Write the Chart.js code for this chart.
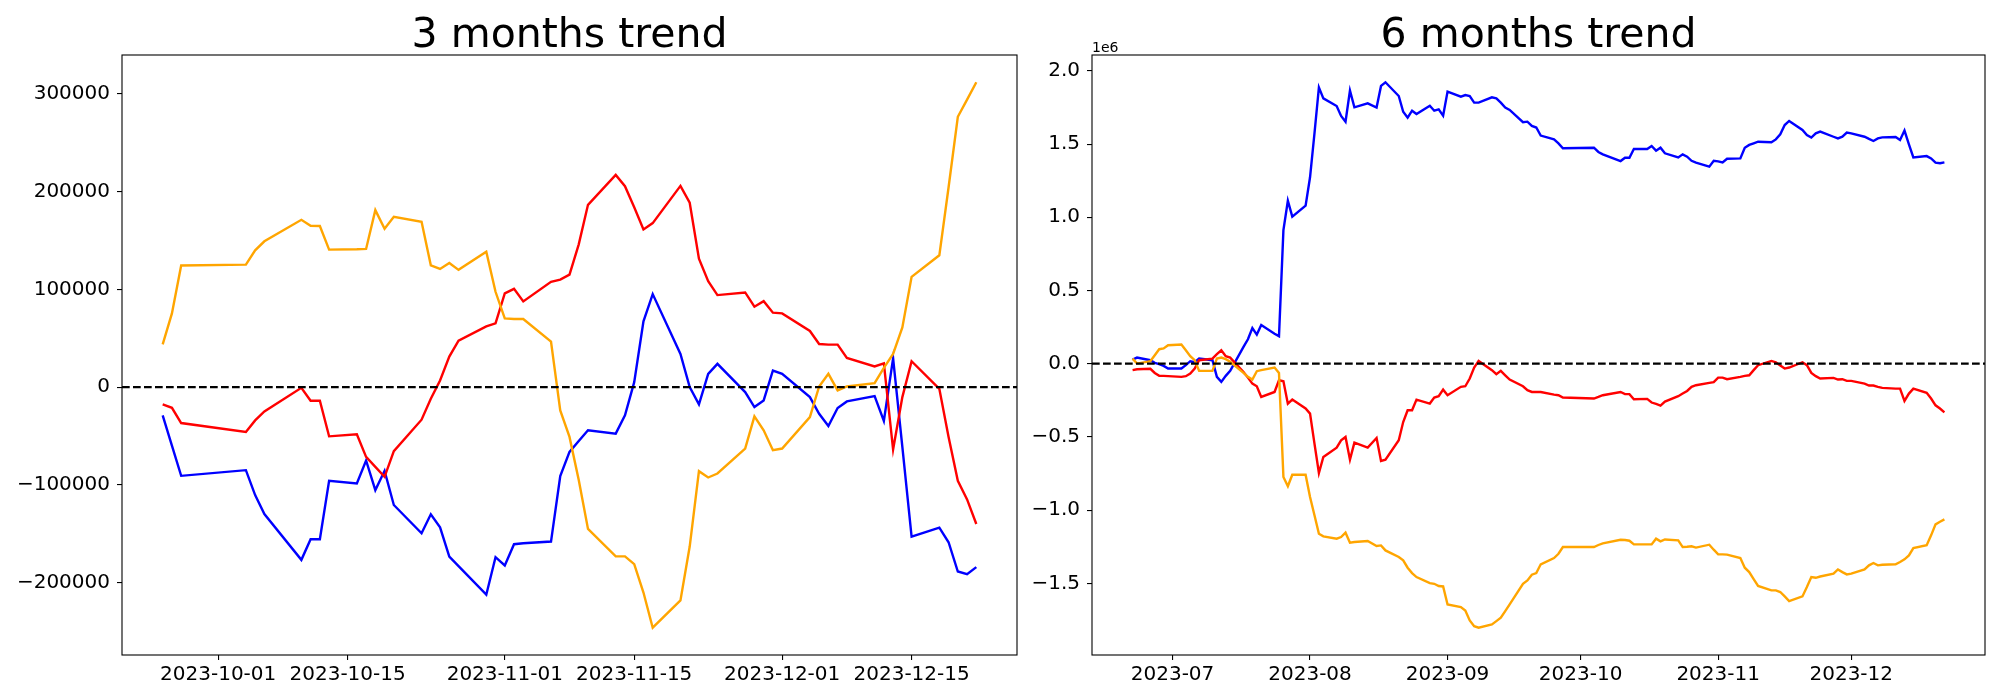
<!DOCTYPE html>
<html>
<head>
<meta charset="utf-8">
<script src="https://cdn.jsdelivr.net/npm/chart.js@4.4.0/dist/chart.umd.min.js"></script>
<style>
  html, body { margin: 0; padding: 0; background: #fff; }
  #wrap { position: relative; width: 2000px; height: 700px; }
  canvas { position: absolute; top: 0; }
  #left { left: 0; }
  #right { left: 1020px; }
</style>
</head>
<body>
<div id="wrap">
  <canvas id="left" width="1020" height="700"></canvas>
  <canvas id="right" width="980" height="700"></canvas>
</div>
<script>
// ---- 3 months (cumulative net flow) ----
const dates3m = [
  '2023-09-25','2023-09-26','2023-09-27',
  '2023-10-04','2023-10-05','2023-10-06',
  '2023-10-10','2023-10-11','2023-10-12','2023-10-13',
  '2023-10-16','2023-10-17','2023-10-18','2023-10-19','2023-10-20',
  '2023-10-23','2023-10-24','2023-10-25','2023-10-26','2023-10-27',
  '2023-10-30','2023-10-31','2023-11-01','2023-11-02','2023-11-03',
  '2023-11-06','2023-11-07','2023-11-08','2023-11-09','2023-11-10',
  '2023-11-13','2023-11-14','2023-11-15','2023-11-16','2023-11-17',
  '2023-11-20','2023-11-21','2023-11-22','2023-11-23','2023-11-24',
  '2023-11-27','2023-11-28','2023-11-29','2023-11-30','2023-12-01',
  '2023-12-04','2023-12-05','2023-12-06','2023-12-07','2023-12-08',
  '2023-12-11','2023-12-12','2023-12-13','2023-12-14','2023-12-15',
  '2023-12-18','2023-12-19','2023-12-20','2023-12-21','2023-12-22'
];
const blue3m = [
  -28900, -59800, -90700,
  -84900, -110400, -129700,
  -176600, -155500, -155500, -95800,
  -98500, -75000, -105300, -85600, -120500,
  -149400, -130000, -143300, -173200, -183000,
  -212200, -173900, -182300, -160600, -159600,
  -157900, -91000, -66200, -55000, -44100,
  -47500, -28900, 5100, 67200, 95100,
  33900, 0, -17700, 13600, 23800,
  -5100, -20400, -13600, 17000, 13600,
  -10200, -27200, -39700, -21400, -14600,
  -9200, -34600, 29500, -61000, -152800,
  -143600, -158600, -188500, -191200, -184000
];
const red3m = [
  -17700, -21100, -36700,
  -45800, -34000, -24800,
  -700, -13900, -13900, -50300,
  -48200, -71300, -81500, -91700, -65500,
  -33300, -11900, 6800, 31200, 47500,
  62100, 65200, 95800, 100500, 87600,
  107600, 110000, 115000, 146000, 186400,
  217000, 205400, 184000, 161300, 167700,
  205800, 188500, 131400, 108300, 94100,
  96800, 82200, 87900, 76100, 75400,
  57400, 44100, 43500, 43500, 29900,
  21100, 24400, -63800, -10200, 26500,
  -1700, -51000, -95800, -114800, -139900
];
const orange3m = [
  43800, 75400, 124300,
  125300, 139900, 149100,
  171100, 165000, 164700, 140600,
  140900, 141300, 181000, 162000, 174200,
  169100, 124600, 120900, 127000, 119900,
  138500, 97500, 70300, 69600, 69600,
  46500, -23800, -50900, -95000, -145000,
  -173000, -173000, -181000, -210000, -246000,
  -218000, -163000, -85900, -92400, -88300,
  -62800, -29900, -44100, -64500, -62800,
  -30600, 700, 13600, -3400, 700,
  4100, 19700, 33900, 61100, 112700,
  134800, 204400, 276400, 294000, 311700
];
const xTicks3m = ['2023-10-01','2023-10-15','2023-11-01','2023-11-15','2023-12-01','2023-12-15'];
const yTicks3m = [-200000, -100000, 0, 100000, 200000, 300000];

// ---- 6 months (values in 1e6) ----
const dates6m = [
  '2023-06-22','2023-06-23',
  '2023-06-26','2023-06-27','2023-06-28','2023-06-29','2023-06-30',
  '2023-07-03','2023-07-04','2023-07-05','2023-07-06','2023-07-07',
  '2023-07-10','2023-07-11','2023-07-12','2023-07-13','2023-07-14',
  '2023-07-17','2023-07-18','2023-07-19','2023-07-20','2023-07-21',
  '2023-07-24','2023-07-25','2023-07-26','2023-07-27','2023-07-28',
  '2023-07-31','2023-08-01','2023-08-02','2023-08-03','2023-08-04',
  '2023-08-07','2023-08-08','2023-08-09','2023-08-10','2023-08-11',
  '2023-08-14','2023-08-16','2023-08-17','2023-08-18',
  '2023-08-21','2023-08-22','2023-08-23','2023-08-24','2023-08-25',
  '2023-08-28','2023-08-29','2023-08-30','2023-08-31','2023-09-01',
  '2023-09-04','2023-09-05','2023-09-06','2023-09-07','2023-09-08',
  '2023-09-11','2023-09-12','2023-09-13','2023-09-14','2023-09-15',
  '2023-09-18','2023-09-19','2023-09-20','2023-09-21','2023-09-22',
  '2023-09-25','2023-09-26','2023-09-27',
  '2023-10-04','2023-10-05','2023-10-06',
  '2023-10-10','2023-10-11','2023-10-12','2023-10-13',
  '2023-10-16','2023-10-17','2023-10-18','2023-10-19','2023-10-20',
  '2023-10-23','2023-10-24','2023-10-25','2023-10-26','2023-10-27',
  '2023-10-30','2023-10-31','2023-11-01','2023-11-02','2023-11-03',
  '2023-11-06','2023-11-07','2023-11-08','2023-11-09','2023-11-10',
  '2023-11-13','2023-11-14','2023-11-15','2023-11-16','2023-11-17',
  '2023-11-20','2023-11-21','2023-11-22','2023-11-23','2023-11-24',
  '2023-11-27','2023-11-28','2023-11-29','2023-11-30','2023-12-01',
  '2023-12-04','2023-12-05','2023-12-06','2023-12-07','2023-12-08',
  '2023-12-11','2023-12-12','2023-12-13','2023-12-14','2023-12-15',
  '2023-12-18','2023-12-19','2023-12-20','2023-12-21','2023-12-22'
];
const blue6m = [
  0.028, 0.042,
  0.024, 0.006, -0.003, -0.015, -0.033,
  -0.033, -0.010, 0.017, 0.010, 0.035,
  0.024, -0.090, -0.124, -0.083, -0.049,
  0.115, 0.167, 0.243, 0.199, 0.265,
  0.204, 0.188, 0.912, 1.113, 1.004,
  1.079, 1.273, 1.573, 1.887, 1.812,
  1.760, 1.692, 1.653, 1.865, 1.751,
  1.778, 1.749, 1.897, 1.922,
  1.828, 1.721, 1.680, 1.728, 1.705,
  1.762, 1.728, 1.737, 1.694, 1.858,
  1.824, 1.835, 1.828, 1.783, 1.783,
  1.819, 1.812, 1.783, 1.749, 1.733,
  1.649, 1.653, 1.624, 1.613, 1.558,
  1.532, 1.505, 1.471,
  1.475, 1.446, 1.430,
  1.384, 1.407, 1.407, 1.466,
  1.466, 1.487, 1.455, 1.475, 1.437,
  1.409, 1.430, 1.414, 1.386, 1.373,
  1.346, 1.386, 1.382, 1.375, 1.400,
  1.402, 1.475, 1.494, 1.505, 1.516,
  1.512, 1.532, 1.567, 1.630, 1.658,
  1.596, 1.562, 1.544, 1.573, 1.585,
  1.550, 1.539, 1.550, 1.578, 1.573,
  1.550, 1.535, 1.521, 1.539, 1.546,
  1.548, 1.528, 1.592, 1.498, 1.409,
  1.418, 1.402, 1.373, 1.369, 1.375
];
const red6m = [
  -0.044, -0.038,
  -0.035, -0.063, -0.083, -0.083, -0.085,
  -0.090, -0.085, -0.067, -0.033, 0.024,
  0.035, 0.065, 0.092, 0.051, 0.042,
  -0.056, -0.095, -0.136, -0.154, -0.227,
  -0.193, -0.113, -0.120, -0.273, -0.245,
  -0.306, -0.341, -0.546, -0.746, -0.637,
  -0.573, -0.523, -0.500, -0.655, -0.539,
  -0.573, -0.507, -0.664, -0.655,
  -0.523, -0.398, -0.318, -0.318, -0.245,
  -0.272, -0.231, -0.222, -0.177, -0.215,
  -0.158, -0.154, -0.101, -0.026, 0.019,
  -0.044, -0.072, -0.049, -0.079, -0.108,
  -0.154, -0.181, -0.193, -0.193, -0.193,
  -0.211, -0.215, -0.231,
  -0.238, -0.227, -0.215,
  -0.193, -0.208, -0.208, -0.243,
  -0.240, -0.265, -0.275, -0.286, -0.259,
  -0.222, -0.204, -0.186, -0.158, -0.147,
  -0.131, -0.126, -0.095, -0.095, -0.106,
  -0.090, -0.083, -0.079, -0.044, -0.010,
  0.019, 0.010, -0.013, -0.033, -0.026,
  0.010, -0.010, -0.063, -0.085, -0.101,
  -0.097, -0.108, -0.106, -0.117, -0.117,
  -0.136, -0.149, -0.149, -0.158, -0.165,
  -0.170, -0.170, -0.254, -0.204, -0.170,
  -0.199, -0.238, -0.284, -0.306, -0.332
];
const orange6m = [
  0.035, 0.001,
  0.017, 0.058, 0.099, 0.104, 0.126,
  0.131, 0.092, 0.051, 0.024, -0.049,
  -0.049, 0.035, 0.042, 0.031, 0.013,
  -0.063, -0.090, -0.108, -0.051, -0.044,
  -0.026, -0.063, -0.774, -0.837, -0.758,
  -0.758, -0.910, -1.035, -1.161, -1.179,
  -1.195, -1.184, -1.154, -1.222, -1.218,
  -1.211, -1.245, -1.241, -1.275,
  -1.320, -1.343, -1.393, -1.430, -1.457,
  -1.498, -1.503, -1.518, -1.521, -1.644,
  -1.662, -1.685, -1.753, -1.792, -1.803,
  -1.780, -1.758, -1.735, -1.690, -1.644,
  -1.503, -1.480, -1.441, -1.430, -1.370,
  -1.327, -1.298, -1.252,
  -1.252, -1.238, -1.227,
  -1.202, -1.204, -1.209, -1.234,
  -1.234, -1.234, -1.195, -1.213, -1.200,
  -1.206, -1.252, -1.250, -1.247, -1.256,
  -1.236, -1.270, -1.302, -1.302, -1.304,
  -1.327, -1.393, -1.423, -1.471, -1.518,
  -1.548, -1.548, -1.559, -1.589, -1.621,
  -1.589, -1.525, -1.457, -1.462, -1.453,
  -1.434, -1.405, -1.423, -1.439, -1.434,
  -1.405, -1.377, -1.361, -1.377, -1.373,
  -1.370, -1.354, -1.336, -1.309, -1.259,
  -1.240, -1.172, -1.097, -1.079, -1.063
];
const xTicks6m = ['2023-07','2023-08','2023-09','2023-10','2023-11','2023-12'];
const yTicks6m = [-1.5, -1.0, -0.5, 0.0, 0.5, 1.0, 1.5, 2.0];

Chart.defaults.font.family = "'DejaVu Sans', sans-serif";
Chart.defaults.color = '#000';

function toDay(s) {
  const p = s.split('-').map(Number);
  return Date.UTC(p[0], p[1] - 1, p[2] || 1) / 86400000;
}
function unicodeMinus(s) { return s.replace('-', '\u2212'); }

// frame, dashed zero line, title and offset text, drawn like matplotlib
const panelPlugin = {
  id: 'panel',
  afterDatasetsDraw(chart, args, opts) {
    const { ctx, chartArea: a } = chart;
    const y0 = chart.scales.y.getPixelForValue(0);
    ctx.save();
    ctx.strokeStyle = '#000';
    ctx.lineWidth = 2.2;
    ctx.setLineDash([7.7, 3.3]);
    ctx.beginPath();
    ctx.moveTo(a.left, y0);
    ctx.lineTo(a.right, y0);
    ctx.stroke();
    ctx.restore();
  },
  afterDraw(chart, args, opts) {
    const { ctx, chartArea: a } = chart;
    ctx.save();
    ctx.strokeStyle = '#000';
    ctx.lineWidth = 1.1;
    ctx.strokeRect(a.left, a.top, a.right - a.left, a.bottom - a.top);
    ctx.fillStyle = '#000';
    ctx.font = "41px 'DejaVu Sans'";
    ctx.textAlign = 'center';
    ctx.textBaseline = 'alphabetic';
    ctx.fillText(opts.title, (a.left + a.right) / 2, a.top - 8.5);
    if (opts.offset) {
      ctx.font = "14px 'DejaVu Sans'";
      ctx.textAlign = 'left';
      ctx.fillText(opts.offset, a.left, a.top - 3.5);
    }
    ctx.restore();
  }
};

function makePanel(id, p) {
  const xs = p.dates.map(toDay);
  const xMin = Math.min(...xs), xMax = Math.max(...xs);
  const xPad = (xMax - xMin) * 0.05;
  const all = [].concat(...p.series.map(s => s.values));
  const yMin = Math.min(...all), yMax = Math.max(...all);
  const yPad = (yMax - yMin) * 0.05;
  const xTickVals = p.xTicks.map(toDay);

  const tickGrid = { display: true, drawOnChartArea: false, drawTicks: true, tickLength: 5, color: '#000', lineWidth: 1.1 };

  return new Chart(document.getElementById(id), {
    type: 'line',
    data: {
      datasets: p.series.map(s => ({
        data: s.values.map((v, i) => ({ x: xs[i], y: v })),
        borderColor: s.color,
        borderWidth: 2.4,
        pointRadius: 0,
        fill: false,
        tension: 0
      }))
    },
    options: {
      responsive: false,
      animation: false,
      devicePixelRatio: 1,
      layout: { padding: { left: 0, right: p.padRight, top: 55, bottom: 0 } },
      plugins: {
        legend: { display: false },
        tooltip: { enabled: false },
        panel: { title: p.title, offset: p.offset }
      },
      scales: {
        x: {
          type: 'linear',
          min: xMin - xPad,
          max: xMax + xPad,
          afterBuildTicks: s => { s.ticks = xTickVals.map(v => ({ value: v })); },
          afterFit: s => { s.height = 45; },
          grid: tickGrid,
          border: { display: false },
          ticks: {
            color: '#000', font: { size: 20 }, padding: 3,
            maxRotation: 0, autoSkip: false,
            callback: (v, i) => p.xTicks[i]
          }
        },
        y: {
          type: 'linear',
          min: yMin - yPad,
          max: yMax + yPad,
          afterBuildTicks: s => { s.ticks = p.yTicks.map(v => ({ value: v })); },
          afterFit: s => { s.width = p.yWidth; },
          grid: tickGrid,
          border: { display: false },
          ticks: {
            color: '#000', font: { size: 20 }, padding: 7, autoSkip: false,
            callback: v => unicodeMinus(p.yFormat(v))
          }
        }
      }
    },
    plugins: [panelPlugin]
  });
}

makePanel('left', {
  title: '3 months trend',
  dates: dates3m,
  series: [
    { values: orange3m, color: '#ffa500' },
    { values: red3m, color: '#ff0000' },
    { values: blue3m, color: '#0000ff' }
  ],
  xTicks: xTicks3m,
  yTicks: yTicks3m,
  yFormat: v => String(Math.round(v)),
  yWidth: 122,
  padRight: 3
});

makePanel('right', {
  title: '6 months trend',
  offset: '1e6',
  dates: dates6m,
  series: [
    { values: orange6m, color: '#ffa500' },
    { values: red6m, color: '#ff0000' },
    { values: blue6m, color: '#0000ff' }
  ],
  xTicks: xTicks6m,
  yTicks: yTicks6m,
  yFormat: v => v.toFixed(1),
  yWidth: 72,
  padRight: 15
});
</script>
</body>
</html>
